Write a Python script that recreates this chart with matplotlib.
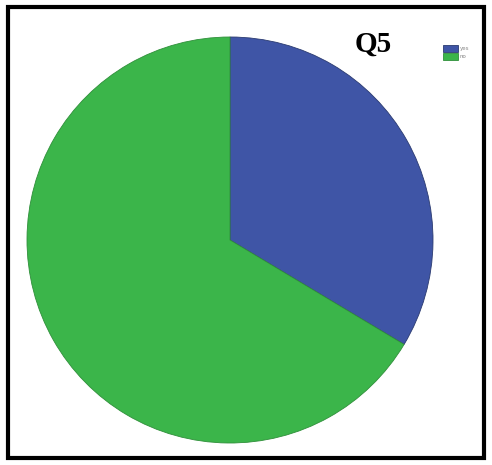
import matplotlib.pyplot as plt
from matplotlib.patches import Rectangle

# Answer categories and their shares
labels = ['yes', 'no']
shares = [33.6, 66.4]
colors = ['#3f55a6', '#3bb54a']

fig = plt.figure(figsize=(4.92, 4.65), dpi=100)

# Thick black frame around the whole chart
fig.patches.append(Rectangle((8 / 492, 7 / 465), 476 / 492, 451 / 465,
                             transform=fig.transFigure, fill=False,
                             edgecolor='black', linewidth=3))

# Pie area: centre about (230, 240) px, radius about 203 px
ax = fig.add_axes([27 / 492, (465 - 443) / 465, 406 / 492, 406 / 465])
wedges, _ = ax.pie(shares, colors=colors, startangle=90, counterclock=False,
                   wedgeprops=dict(edgecolor='#2a3a70', linewidth=0.6))
wedges[1].set_edgecolor('#2f8f3a')
ax.set_aspect('auto')
ax.set_xlim(-1, 1)
ax.set_ylim(-1, 1)
ax.axis('off')

fig.text(373 / 492, 1 - 44 / 465, 'Q5', ha='center', va='center',
         fontsize=21, fontweight='bold', family='Liberation Serif')

# Tiny legend top right
leg = fig.legend(wedges, labels, loc='upper left', bbox_to_anchor=(440 / 492, 1 - 42 / 465),
                 frameon=False, fontsize=4, handlelength=2.7, handleheight=1.5,
                 handletextpad=0.3, labelspacing=0.3, borderpad=0)
for t in leg.get_texts():
    t.set_color('#888888')

fig.savefig('out.png', dpi=100)
